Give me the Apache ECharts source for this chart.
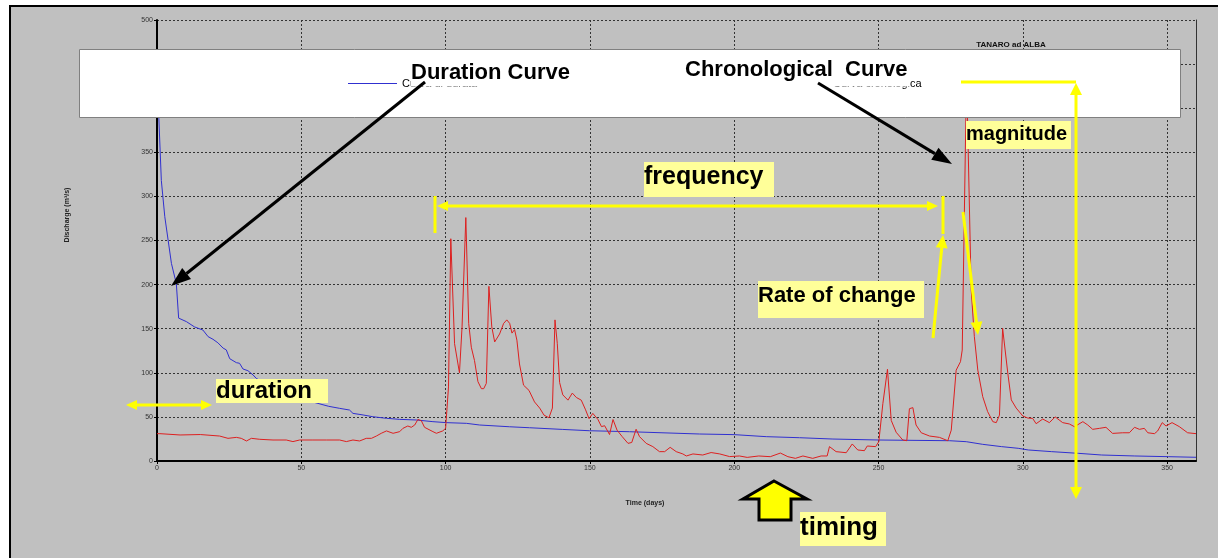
<!DOCTYPE html>
<html>
<head>
<meta charset="utf-8">
<script src="https://cdn.jsdelivr.net/npm/echarts@6/dist/echarts.min.js"></script>
<style>
html, body { margin: 0; padding: 0; background: #fff; }
#chart { width: 1218px; height: 558px; }
</style>
</head>
<body>
<div id="chart"></div>
<script>
// Curva di durata (blu): giorni / portata m3/s
const durationDays = [0, 0.5, 1.5, 2.7, 5, 6.7, 7.5, 10.2, 13, 15.9, 17.7, 19.4, 21.1, 22.9, 24, 25.2, 27.5, 28.6, 29.8, 31.5, 33.3, 34.4, 40, 45, 50, 55, 59.5, 63.3, 66.7, 67.9, 71.4, 74.8, 79.5, 84.1, 89.9, 95.6, 100.2, 107.2, 111.8, 122.2, 129.1, 140.6, 149.9, 163.7, 188, 200, 211.1, 222.6, 234.2, 250.1, 274.6, 280.4, 286.1, 292.6, 298.4, 301.9, 310, 319.2, 327.3, 338.8, 350.4, 360];
const durationFlow = [440, 400, 318, 277, 224, 201, 162, 158, 152, 148.5, 141, 138, 134, 128, 126, 116, 111.5, 110.8, 104.3, 102.4, 97.5, 93.7, 83, 76, 70, 66, 62, 59.7, 57.8, 54, 52.2, 50.2, 48.4, 47.2, 46.5, 44.6, 43.5, 42.7, 40.8, 38.8, 37.7, 35.8, 34.3, 33.2, 30.6, 29.9, 27.6, 26.4, 24.9, 23.8, 23, 21.9, 18.9, 16.3, 14.4, 12.5, 10.6, 8.7, 6.8, 5.7, 4.9, 4.2];

// Curva cronologica (rossa): giorni / portata m3/s
const chronoDays = [0, 1, 8, 15, 21.7, 24.6, 27.5, 29.2, 31, 32.7, 35.6, 40.2, 44.8, 47.1, 49.4, 54, 58.7, 63.3, 65.6, 67.9, 70.2, 72.5, 74.3, 76, 77.7, 79.5, 81.8, 84.1, 85.2, 86.9, 88.1, 89.3, 90.4, 91.6, 92.7, 95.6, 96.8, 99, 100, 101, 101.8, 103.1, 104.8, 105.7, 107, 108, 108.9, 110, 111.2, 112.4, 113.2, 114.1, 115, 116, 117, 118.7, 120.1, 121.2, 122.2, 123, 123.9, 124.7, 125.6, 127, 128.9, 130.8, 132.6, 134.1, 135.8, 137, 137.9, 138.7, 139.5, 140.6, 142.4, 143.9, 145.3, 147, 148.5, 149.7, 151, 152.8, 154, 155.1, 156.8, 158, 159.4, 161.2, 163.2, 164.5, 166, 167.2, 169.5, 171.8, 174.1, 175.9, 177.8, 179.9, 182.2, 183.4, 185.7, 189.1, 192, 195, 198.4, 201.8, 204.5, 208.5, 212.5, 216, 218.6, 221.2, 223.8, 227.2, 230.1, 232.2, 233, 235.3, 238.8, 240.9, 242.8, 245.1, 246.1, 249, 250.1, 251.5, 253.1, 254.4, 256.1, 258.4, 259.8, 260.7, 261.9, 263, 264.8, 267.7, 271.1, 274, 275.2, 276.9, 278.4, 279, 280.5, 282.1, 283.2, 284.4, 286.1, 287.8, 289.6, 290.8, 291.9, 293, 294.8, 296, 297.7, 300, 301.7, 303.4, 304.6, 306.9, 309.2, 311.2, 313.8, 316.1, 317.9, 320.8, 322.5, 324.2, 326.5, 328.8, 331.1, 334.6, 336.9, 338.7, 340.4, 342.1, 343.3, 345.6, 346.7, 348.3, 349.6, 351.7, 354.2, 357.1, 360];
const chronoFlow = [31, 31, 29.5, 30, 28.3, 25.7, 26.8, 25.7, 22.7, 25.7, 24.6, 23.8, 23.8, 22, 23.8, 23.8, 23.8, 23.8, 22, 23.8, 22.7, 25.7, 25.7, 28.3, 31.4, 34.1, 31.4, 33.3, 37, 39.7, 38.2, 40.8, 47.1, 45.6, 38.2, 33.3, 31.4, 34.1, 37, 84, 252, 133, 100, 152, 276, 156, 129, 114, 90, 82, 82, 88, 198, 152, 135, 144, 156, 160, 156, 145, 149, 137, 110, 86, 80, 67, 60, 52, 49, 60, 160, 133, 89, 75, 69, 77, 72, 69, 58, 48, 54, 47, 39, 40, 30, 47, 35, 27.6, 20, 21, 36, 27.6, 20, 16.3, 10.6, 10.6, 15.5, 10.6, 8, 5.7, 8, 6.8, 9.6, 8, 5, 5.7, 4.1, 5.7, 4.9, 9, 4.9, 3, 5.7, 3, 5.7, 5.7, 16.3, 10.6, 9.4, 19.3, 12.5, 11.7, 17, 16.3, 22, 65, 104, 46, 32.6, 23.8, 23, 59.3, 60.5, 40.8, 32, 28.3, 26.8, 23, 35, 103, 112.6, 125.8, 440, 194, 141, 103, 73, 56, 44.6, 43.5, 52, 150.4, 99.4, 69.3, 60, 51, 48.7, 48.3, 42.3, 47.6, 43.5, 50, 43.5, 42, 38.9, 44.6, 40.8, 35.9, 37, 38.2, 31.3, 32, 32, 38.2, 35.9, 37, 32, 31, 34, 43.5, 39.7, 43.5, 39, 32, 31];

const zip = (xs, ys) => xs.map((x, i) => [x, ys[i]]);

const FONT = 'Arial, "Liberation Sans", sans-serif';
const YELLOW = '#ffff00';
const PALE = '#ffff99';

// freccia: linea da (x1,y1) a punta (x2,y2)
function arrow(x1, y1, x2, y2, color, w, len, half) {
  const a = Math.atan2(y2 - y1, x2 - x1);
  const bx = x2 - len * Math.cos(a), by = y2 - len * Math.sin(a);
  const nx = -Math.sin(a) * half, ny = Math.cos(a) * half;
  return [
    { type: 'line', z: 40, shape: { x1: x1, y1: y1, x2: bx, y2: by }, style: { stroke: color, lineWidth: w } },
    { type: 'polygon', z: 40, shape: { points: [[x2, y2], [bx + nx, by + ny], [bx - nx, by - ny]] }, style: { fill: color } }
  ];
}
function seg(x1, y1, x2, y2, color, w) {
  return { type: 'line', z: 40, shape: { x1: x1, y1: y1, x2: x2, y2: y2 }, style: { stroke: color, lineWidth: w } };
}
function label(text, x, y, w, h, size, bg, ty) {
  return [
    { type: 'rect', z: 35, shape: { x: x, y: y, width: w, height: h }, style: { fill: bg } },
    { type: 'text', z: 45, x: x, y: ty, style: { text: text, font: 'bold ' + size + 'px ' + FONT, fill: '#000', textAlign: 'left', textVerticalAlign: 'middle' } }
  ];
}

const graphics = [].concat(
  // sfondo grigio con cornice
  [{ type: 'rect', z: -10, shape: { x: 10, y: 6, width: 1260, height: 600 }, style: { fill: '#c0c0c0', stroke: '#000', lineWidth: 2 } }],
  // riquadro legenda
  [{ type: 'rect', z: 10, shape: { x: 79.5, y: 49.5, width: 1101, height: 68 }, style: { fill: '#fff', stroke: '#808080', lineWidth: 1 } }],
  [{ type: 'text', z: 12, x: 1011, y: 45, style: { text: 'TANARO ad ALBA', font: 'bold 8px ' + FONT, fill: '#111', textAlign: 'center', textVerticalAlign: 'middle' } }],
  [{ type: 'text', z: 12, x: 67, y: 215, rotation: Math.PI / 2, style: { text: 'Discharge (m³/s)', font: 'bold 7px ' + FONT, fill: '#222', textAlign: 'center', textVerticalAlign: 'middle' } }],
  [{ type: 'text', z: 12, x: 645, y: 503, style: { text: 'Time (days)', font: 'bold 7px ' + FONT, fill: '#222', textAlign: 'center', textVerticalAlign: 'middle' } }],
  label('Duration Curve', 411, 57, 166, 29.5, 22, '#fff', 73),
  label('Chronological  Curve', 685, 55, 225, 31.5, 22, '#fff', 70),
  arrow(425, 82, 171, 286, '#000', 3, 20, 7),
  arrow(818, 83, 952, 164, '#000', 3, 20, 7),
  label('frequency', 644, 162, 130, 35, 25, PALE, 177),
  [seg(435, 196, 435, 233, YELLOW, 3), seg(943, 196, 943, 234, YELLOW, 3)],
  arrow(690, 206, 437, 206, YELLOW, 3, 11, 5),
  arrow(690, 206, 938, 206, YELLOW, 3, 11, 5),
  label('Rate of change', 758, 281, 166, 37, 22, PALE, 296),
  arrow(933, 338, 943, 235, YELLOW, 3, 13, 6),
  arrow(963, 212, 978, 335, YELLOW, 3, 13, 6),
  label('magnitude', 966, 121, 105, 28, 20, PALE, 134),
  [seg(961, 82, 1076, 82, YELLOW, 3)],
  arrow(1076, 300, 1076, 83, YELLOW, 3, 12, 6),
  arrow(1076, 300, 1076, 499, YELLOW, 3, 12, 6),
  label('duration', 216, 379, 112, 24, 24, PALE, 391),
  arrow(170, 405, 126, 405, YELLOW, 3, 11, 5),
  arrow(170, 405, 212, 405, YELLOW, 3, 11, 5),
  [{ type: 'polygon', z: 40, shape: { points: [[774, 481], [807, 499], [791, 499], [791, 520], [759, 520], [759, 499], [743, 499]] }, style: { fill: YELLOW, stroke: '#000', lineWidth: 3 } }],
  label('timing', 800, 512, 86, 34, 26, PALE, 528)
);

const legendText = { fontSize: 11, color: '#000', fontFamily: FONT };

const chart = echarts.init(document.getElementById('chart'));
chart.setOption({
  animation: false,
  backgroundColor: '#fff',
  grid: { left: 157, top: 20, right: 22, bottom: 97 },
  legend: [
    { data: ['Curva di durata'], left: 348, top: 78, padding: 0, icon: 'rect', itemWidth: 49, itemHeight: 1, z: 20,
      selectedMode: false, textStyle: legendText },
    { data: ['Curva cronologica'], left: 779, top: 78, padding: 0, icon: 'rect', itemWidth: 49, itemHeight: 1, z: 20,
      selectedMode: false, textStyle: legendText }
  ],
  xAxis: {
    type: 'value', min: 0, max: 360, interval: 50,
    axisLine: { lineStyle: { color: '#000', width: 2 } },
    axisTick: { length: 3, lineStyle: { color: '#000' } },
    axisLabel: { fontSize: 7, color: '#333', margin: 4, showMaxLabel: false, fontFamily: FONT },
    splitLine: { show: true, lineStyle: { color: '#333', type: [2, 2], width: 1 } }
  },
  yAxis: [{
    type: 'value', min: 0, max: 500, interval: 50,
    axisLine: { show: true, lineStyle: { color: '#000', width: 2 } },
    axisTick: { show: true, length: 3, lineStyle: { color: '#000' } },
    axisLabel: { fontSize: 7, color: '#333', margin: 4, fontFamily: FONT },
    splitLine: { show: true, lineStyle: { color: '#333', type: [2, 2], width: 1 } }
  }, {
    type: 'value', position: 'right', min: 0, max: 500,
    axisLine: { show: true, lineStyle: { color: '#333', width: 1 } },
    axisTick: { show: false }, axisLabel: { show: false }, splitLine: { show: false }
  }],
  series: [
    { name: 'Curva di durata', type: 'line', showSymbol: false, symbol: 'none',
      lineStyle: { color: '#3030d0', width: 1 }, itemStyle: { color: '#3030d0' },
      data: zip(durationDays, durationFlow) },
    { name: 'Curva cronologica', type: 'line', showSymbol: false, symbol: 'none',
      lineStyle: { color: '#dd2020', width: 1 }, itemStyle: { color: '#dd2020' },
      data: zip(chronoDays, chronoFlow) }
  ],
  graphic: graphics
});
</script>
</body>
</html>
